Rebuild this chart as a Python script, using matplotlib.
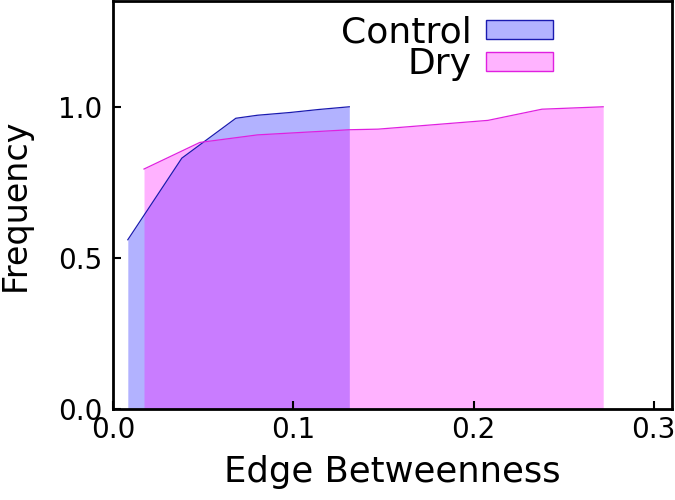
import numpy as np
import matplotlib
matplotlib.use('Agg')
import matplotlib.pyplot as plt
from matplotlib.patches import Patch

# cumulative frequency of edge betweenness
ctrlX = [0.008, 0.038, 0.068, 0.080, 0.098, 0.114, 0.131]
ctrlY = [0.56, 0.83, 0.962, 0.972, 0.981, 0.991, 1.0]
dryX = [0.017, 0.048, 0.080, 0.131, 0.147, 0.166, 0.208, 0.238, 0.272]
dryY = [0.794, 0.882, 0.907, 0.924, 0.926, 0.935, 0.955, 0.992, 1.0]

blue = (0, 0, 1)
mag = (1, 0, 1)

fig = plt.figure(figsize=(6.75, 5), dpi=100)
ax = fig.add_axes([0.168, 0.182, 0.827, 0.816])

ax.fill_between(ctrlX, 0, ctrlY, color=blue, alpha=0.3, linewidth=0)
ax.plot(ctrlX, ctrlY, color='#1a1ab0', linewidth=0.9)
ax.fill_between(dryX, 0, dryY, color=mag, alpha=0.3, linewidth=0)
ax.plot(dryX, dryY, color='#e020e0', linewidth=0.9)

handles = [Patch(facecolor=(0.7, 0.7, 1.0), edgecolor='#1a1ab0', linewidth=1),
           Patch(facecolor=(1.0, 0.7, 1.0), edgecolor='#e020e0', linewidth=1)]
leg = ax.legend(handles, ['Control', 'Dry'], loc='upper right', bbox_to_anchor=(0.787, 0.965),
                frameon=False, markerfirst=False, fontsize=26, handlelength=1.85,
                handleheight=0.45, labelspacing=-0.05, borderpad=0, borderaxespad=0,
                handletextpad=0.4)

ax.set_xlim(0, 0.31)
ax.set_ylim(0, 1.35)
ax.set_xticks([0.0, 0.1, 0.2, 0.3])
ax.set_yticks([0.0, 0.5, 1.0])
ax.tick_params(axis='both', direction='in', length=6, width=1.5, labelsize=20,
               top=False, right=False)
ax.tick_params(axis='x', pad=5)
ax.tick_params(axis='y', pad=8)
for s in ax.spines.values():
    s.set_linewidth(2)
ax.set_xlabel('Edge Betweenness', fontsize=25.5, labelpad=8)
ax.set_ylabel('Frequency', fontsize=24, labelpad=19)

fig.savefig('out.png', dpi=100)
